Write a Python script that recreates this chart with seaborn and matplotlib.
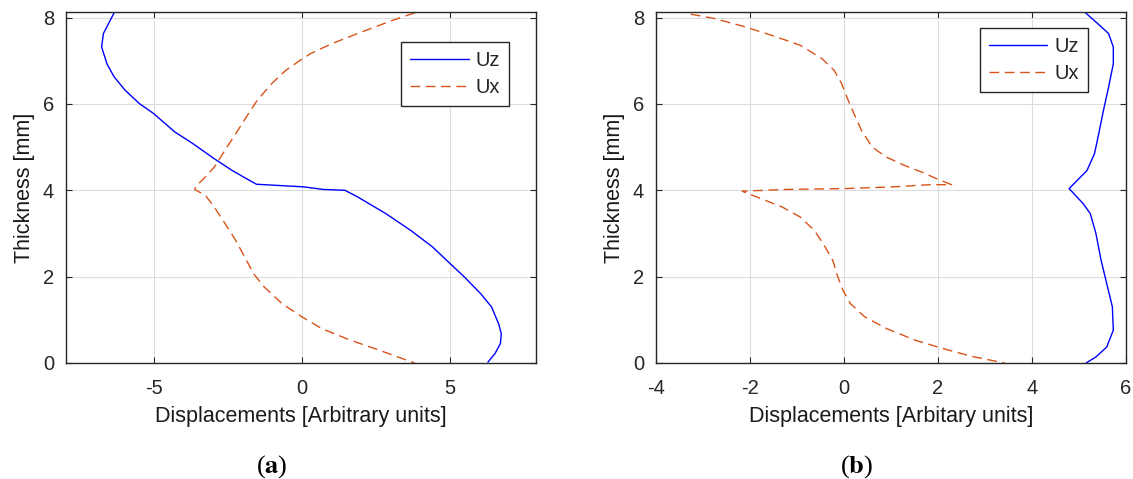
import numpy as np
import pandas as pd
import matplotlib
matplotlib.use('Agg')
import matplotlib.pyplot as plt
import seaborn as sns

# panel (a)
uz_a_x = [-6.33, -6.69, -6.75, -6.57, -6.33, -5.96, -5.48, -5.00, -4.28, -3.67, -2.95, -2.35,
          -1.87, -1.53, 0.06, 0.72, 1.45, 1.87, 2.83, 3.67, 4.40, 5.00, 5.48, 6.02, 6.39,
          6.63, 6.72, 6.69, 6.51, 6.27]
uz_a_y = [8.11, 7.63, 7.32, 6.93, 6.63, 6.32, 6.01, 5.78, 5.35, 5.08, 4.73, 4.46,
          4.27, 4.14, 4.08, 4.02, 4.00, 3.85, 3.46, 3.07, 2.69, 2.30, 1.99, 1.61, 1.30,
          0.91, 0.68, 0.45, 0.22, 0.02]
ux_a_x = [3.80, 3.07, 1.87, 1.02, 0.30, -0.06, -0.54, -1.02, -1.51, -1.87, -2.23, -2.59,
          -2.95, -3.31, -3.58, -3.61, -3.25, -2.95, -2.59, -2.23, -1.87, -1.63, -1.27,
          -0.66, 0.00, 0.66, 1.63, 2.47, 3.19, 3.80]
ux_a_y = [8.11, 7.94, 7.63, 7.40, 7.17, 7.01, 6.78, 6.47, 6.08, 5.70, 5.31, 4.93,
          4.54, 4.27, 4.09, 4.02, 3.88, 3.61, 3.23, 2.84, 2.38, 2.07, 1.76,
          1.37, 1.07, 0.80, 0.53, 0.33, 0.15, 0.00]

# panel (b)
uz_b_x = [5.14, 5.40, 5.63, 5.73, 5.73, 5.63, 5.52, 5.42, 5.33, 5.17, 4.79, 5.09, 5.24,
          5.36, 5.47, 5.59, 5.71, 5.73, 5.59, 5.36, 5.15]
uz_b_y = [8.11, 7.86, 7.63, 7.32, 6.93, 6.39, 5.85, 5.31, 4.85, 4.46, 4.04, 3.69, 3.46,
          3.00, 2.38, 1.84, 1.30, 0.76, 0.37, 0.14, 0.00]
ux_b_x = [-3.26, -2.76, -2.15, -1.54, -0.93, -0.47, -0.21, -0.05, 0.06, 0.21, 0.37, 0.60,
          0.90, 1.28, 1.66, 2.05, 2.29, 1.82, 1.05, 0.00, -1.24, -2.17, -1.77, -1.31,
          -0.93, -0.63, -0.44, -0.24, -0.13, -0.02, 0.14, 0.44, 0.90, 1.51, 2.12, 2.73, 3.42]
ux_b_y = [8.08, 7.98, 7.80, 7.59, 7.36, 7.05, 6.78, 6.47, 6.16, 5.78, 5.39, 5.00,
          4.77, 4.58, 4.42, 4.23, 4.13, 4.13, 4.08, 4.04, 4.02, 3.98, 3.81, 3.61,
          3.38, 3.07, 2.76, 2.38, 1.99, 1.68, 1.37, 1.07, 0.80, 0.53, 0.33, 0.15, 0.00]

x_label_a = 'Displacements [Arbitrary units]'
x_label_b = 'Displacements [Arbitary units]'
y_label = 'Thickness [mm]'
captions = ['a', 'b']

blue = '#0000ff'
orange = '#d95319'
gray = '#262626'

sns.set_theme(style='ticks')
plt.rcParams['font.family'] = ['Liberation Sans', 'DejaVu Sans']
plt.rcParams['mathtext.fontset'] = 'stix'
plt.rcParams['axes.unicode_minus'] = False

fig = plt.figure(figsize=(11.33, 4.79), dpi=100)
ax_a = fig.add_axes([66 / 1133, 1 - 363 / 479, 470 / 1133, 351 / 479])
ax_b = fig.add_axes([656 / 1133, 1 - 363 / 479, 470 / 1133, 351 / 479])


def draw_panel(ax, uz_x, uz_y, ux_x, ux_y, xlim, xticks, xlabel, legend_anchor):
    uz = pd.DataFrame({'x': uz_x, 'y': uz_y})
    ux = pd.DataFrame({'x': ux_x, 'y': ux_y})
    sns.lineplot(data=uz, x='x', y='y', sort=False, estimator=None, ax=ax,
                 color=blue, linewidth=1.0, label='Uz')
    sns.lineplot(data=ux, x='x', y='y', sort=False, estimator=None, ax=ax,
                 color=orange, linewidth=1.0, linestyle=(0, (7, 4)), label='Ux')
    ax.set_xlim(*xlim)
    ax.set_ylim(0, 8.13)
    ax.set_xticks(xticks)
    ax.set_yticks([0, 2, 4, 6, 8])
    ax.grid(True, color='#dcdcdc', linewidth=0.8)
    ax.set_axisbelow(True)
    for s in ax.spines.values():
        s.set_color(gray)
        s.set_linewidth(1.0)
    ax.tick_params(direction='in', length=4, width=0.8, color=gray, labelcolor=gray,
                   labelsize=14.5, top=True, right=True)
    ax.tick_params(axis='x', pad=11.5)
    ax.tick_params(axis='y', pad=8.5)
    ax.set_xlabel(xlabel, fontsize=15.5, color='#1a1a1a', labelpad=6)
    ax.set_ylabel(y_label, fontsize=15.5, color='#1a1a1a', labelpad=5.5)
    leg = ax.legend(loc='upper right', bbox_to_anchor=legend_anchor, borderaxespad=0,
                    fontsize=14.5, fancybox=False, framealpha=1, edgecolor=gray,
                    handlelength=2.9, handletextpad=0.35, borderpad=0.45, labelspacing=0.4)
    leg.get_frame().set_linewidth(1.0)


draw_panel(ax_a, uz_a_x, uz_a_y, ux_a_x, ux_a_y, (-7.95, 7.89), [-5, 0, 5], x_label_a, (0.943, 0.915))
draw_panel(ax_b, uz_b_x, uz_b_y, ux_b_x, ux_b_y, (-4, 6), [-4, -2, 0, 2, 4, 6], x_label_b, (0.919, 0.954))

for xc, cap in zip([272, 857], captions):
    fig.text(xc / 1133, 1 - 467 / 479, '(' + r'$\mathbf{' + cap + '}$' + ')',
             ha='center', va='center', fontsize=19, family='Liberation Serif', color='black')

fig.savefig('out.png', dpi=100)
